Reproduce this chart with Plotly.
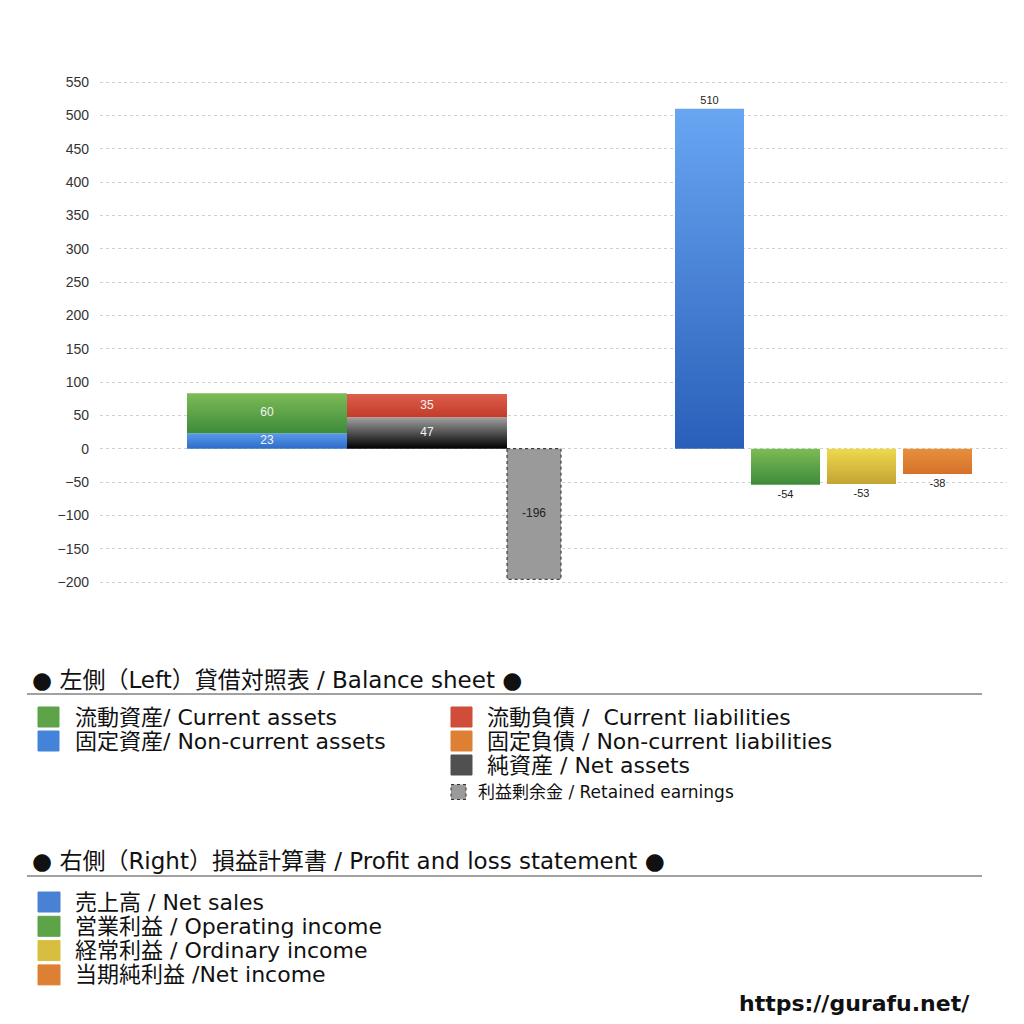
import plotly.graph_objects as go

# ---- data ----
bs_names = ['流動資産/ Current assets', '固定資産/ Non-current assets',
            '流動負債 /  Current liabilities', '固定負債 / Non-current liabilities',
            '純資産 / Net assets']
current_assets = 60
noncurrent_assets = 23
current_liabilities = 35
noncurrent_liabilities = 0
net_assets = 47
retained_earnings = -196

pl_names = ['売上高 / Net sales', '営業利益 / Operating income',
            '経常利益 / Ordinary income', '当期純利益 /Net income']
pl_values = [510, -54, -53, -38]

y_ticks = list(range(-200, 551, 50))

# ---- colours: (bottom, top) of each gradient ----
g_green = ('#3d8b3a', '#7dbb56')
g_blue = ('#2e6cc8', '#5a9aec')
g_sales = ('#2a5fb9', '#68a6f2')
g_red = ('#c23c28', '#dc5e4b')
g_orange = ('#d6702a', '#e6903c')
g_black = ('#000000', '#a0a0a0')
g_yellow = ('#c2a434', '#eed94c')
c_gray = '#9a9a9a'
pl_grads = [g_sales, g_green, g_yellow, g_orange]

# bar layout on a plain numeric x axis
asset_x, liab_x, bs_width = 16.7, 32.7, 16
re_x, re_width = 43.4, 5.4
pl_x = [60.95, 68.55, 76.15, 83.75]
pl_width = 6.9

FONT = 'DejaVu Sans, Noto Sans CJK JP'
OFF = 8  # page body margin

fig = go.Figure()


def grad_fill(x, width, base, val, grad):
    # gradient body of a bar
    x0, x1 = x - width / 2, x + width / 2
    fig.add_trace(go.Scatter(x=[x0, x1, x1, x0, x0],
                             y=[base, base, base + val, base + val, base],
                             mode='none', fill='toself', hoverinfo='skip',
                             fillgradient=dict(type='vertical',
                                               colorscale=[[0, grad[0]], [1, grad[1]]])))


def inner_text(x, base, val, color='#f4f4f4'):
    fig.add_trace(go.Scatter(x=[x], y=[base + val / 2], mode='text', text=[str(val)],
                             textposition='middle center', hoverinfo='skip',
                             textfont=dict(color=color, size=12, family='Liberation Sans')))


# retained earnings: flat grey bar with dotted border
fig.add_trace(go.Bar(x=[re_x], y=[retained_earnings], base=[0], width=re_width,
                     marker=dict(color=c_gray, line=dict(width=0)),
                     hoverinfo='skip'))
fig.add_shape(type='rect', xref='x', yref='y',
              x0=re_x - re_width / 2, x1=re_x + re_width / 2, y0=0, y1=retained_earnings,
              line=dict(color='#222', width=1, dash='dot'))

# profit and loss: transparent bars only carry the outside labels
fig.add_trace(go.Bar(x=pl_x, y=pl_values, width=pl_width,
                     marker=dict(color='rgba(0,0,0,0)', line=dict(width=0)),
                     text=pl_values, textposition='outside', textangle=0,
                     cliponaxis=False,
                     textfont=dict(color='#222', size=11)))

grad_fill(asset_x, bs_width, 0, noncurrent_assets, g_blue)
grad_fill(asset_x, bs_width, noncurrent_assets, current_assets, g_green)
grad_fill(liab_x, bs_width, 0, net_assets, g_black)
if noncurrent_liabilities:
    grad_fill(liab_x, bs_width, net_assets, noncurrent_liabilities, g_orange)
grad_fill(liab_x, bs_width, net_assets + noncurrent_liabilities, current_liabilities, g_red)
for x, v, g in zip(pl_x, pl_values, pl_grads):
    grad_fill(x, pl_width, 0, v, g)

inner_text(asset_x, 0, noncurrent_assets)
inner_text(asset_x, noncurrent_assets, current_assets)
inner_text(liab_x, 0, net_assets)
inner_text(liab_x, net_assets + noncurrent_liabilities, current_liabilities)
inner_text(re_x, 0, retained_earnings, color='#222')

# ---- legend drawn by hand below the chart ----
L, T, W, H = 100 - OFF, 70 - OFF, 907, 520


def px(x):
    return (x - OFF - L) / W


def py(y):
    return (T + H - (y - OFF)) / H


def mix(grad):
    a = [int(grad[0][i:i + 2], 16) for i in (1, 3, 5)]
    b = [int(grad[1][i:i + 2], 16) for i in (1, 3, 5)]
    return 'rgb(%d,%d,%d)' % tuple((p + q) // 2 for p, q in zip(a, b))


def swatch(x0, x1, yc, h, color, dash=None):
    fig.add_shape(type='rect', xref='paper', yref='paper',
                  x0=px(x0), x1=px(x1), y0=py(yc + h / 2), y1=py(yc - h / 2),
                  fillcolor=color,
                  line=dict(color='#333' if dash else color, width=1, dash=dash))


def label(x, y, text, size=22):
    fig.add_annotation(xref='paper', yref='paper', x=px(x), y=py(y), text=text,
                       showarrow=False, xanchor='left', yanchor='middle',
                       font=dict(family=FONT, size=size, color='#111'))


label(30, 680, '● 左側（Left）貸借対照表 / Balance sheet ●', size=23)
fig.add_shape(type='line', xref='paper', yref='paper', x0=px(27), x1=px(982),
              y0=py(694), y1=py(694), line=dict(color='#444', width=1.2))

left_col = [(bs_names[0], g_green), (bs_names[1], g_blue)]
right_col = [(bs_names[2], g_red), (bs_names[3], g_orange), (bs_names[4], g_black)]
for i, (name, g) in enumerate(left_col):
    yc = 717 + 24 * i
    swatch(38, 59, yc, 20, mix(g))
    label(73, yc, name)
for i, (name, g) in enumerate(right_col):
    yc = 717 + 24 * i
    swatch(451, 472, yc, 20, mix(g))
    label(485, yc, name)
swatch(451, 466, 792, 15, c_gray, dash='dot')
label(476, 792, '利益剰余金 / Retained earnings', size=17)

label(30, 861, '● 右側（Right）損益計算書 / Profit and loss statement ●', size=23)
fig.add_shape(type='line', xref='paper', yref='paper', x0=px(27), x1=px(982),
              y0=py(876), y1=py(876), line=dict(color='#444', width=1.2))
for i, (name, g) in enumerate(zip(pl_names, pl_grads)):
    yc = 902 + 24.3 * i
    swatch(38, 60, yc, 20, mix(g))
    label(73, yc, name)

fig.add_annotation(xref='paper', yref='paper', x=px(972), y=py(1004),
                   text='<b>https://gurafu.net/</b>', showarrow=False,
                   xanchor='right', yanchor='middle',
                   font=dict(family='DejaVu Sans', size=22, color='#111'))

fig.update_layout(
    width=1024, height=1024,
    margin=dict(l=L, r=1024 - L - W, t=T, b=1024 - T - H),
    barmode='overlay',
    showlegend=False,
    plot_bgcolor='white', paper_bgcolor='white',
    font=dict(family='Liberation Sans', color='#222'),
    xaxis=dict(range=[0, 90.7], visible=False, fixedrange=True),
    yaxis=dict(range=[-212, 568], tickvals=y_ticks, showgrid=True,
               gridcolor='#d0d0d0', griddash='dot', gridwidth=1,
               zeroline=False, showline=False, ticks='',
               tickfont=dict(size=14, color='#333'), ticklabelstandoff=10),
)

fig.write_html('out.html')
